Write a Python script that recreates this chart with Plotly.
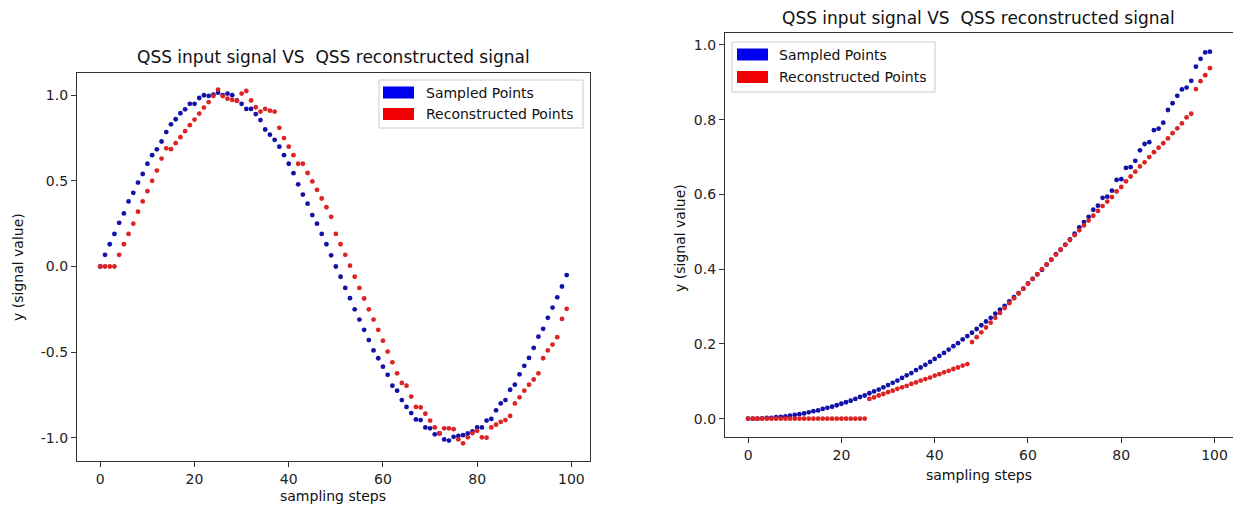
import plotly.graph_objects as go

W, H = 1233, 508

steps = list(range(100))

sine_sampled = [
    0.000, 0.068, 0.130, 0.190, 0.255, 0.310, 0.380, 0.430, 0.490, 0.540,
    0.600, 0.650, 0.684, 0.730, 0.785, 0.830, 0.860, 0.895, 0.918, 0.950,
    0.950, 0.984, 1.000, 0.996, 1.004, 1.015, 1.000, 1.010, 1.000, 0.970,
    0.950, 0.920, 0.920, 0.890, 0.855, 0.800, 0.770, 0.740, 0.700, 0.650,
    0.600, 0.545, 0.480, 0.420, 0.367, 0.300, 0.250, 0.190, 0.130, 0.065,
    0.000, -0.060, -0.125, -0.185, -0.250, -0.310, -0.370, -0.430, -0.490, -0.536,
    -0.585, -0.633, -0.696, -0.725, -0.780, -0.820, -0.856, -0.893, -0.897, -0.940,
    -0.945, -0.980, -0.975, -1.010, -1.017, -0.995, -0.990, -0.985, -0.975, -0.963,
    -0.940, -0.940, -0.900, -0.890, -0.840, -0.800, -0.780, -0.720, -0.690, -0.630,
    -0.580, -0.534, -0.475, -0.410, -0.364, -0.300, -0.240, -0.180, -0.117, -0.050,
]

sine_recon = [
    0.000, 0.000, 0.000, 0.000, 0.068, 0.130, 0.190, 0.250, 0.320, 0.380,
    0.440, 0.500, 0.560, 0.630, 0.690, 0.685, 0.720, 0.755, 0.790, 0.825,
    0.858, 0.893, 0.928, 0.960, 0.996, 1.033, 0.995, 0.980, 0.973, 0.967,
    1.010, 1.025, 0.970, 0.930, 0.905, 0.920, 0.910, 0.905, 0.810, 0.750,
    0.700, 0.650, 0.600, 0.600, 0.546, 0.497, 0.448, 0.397, 0.346, 0.290,
    0.190, 0.130, 0.068, 0.005, -0.060, -0.125, -0.187, -0.250, -0.310, -0.370,
    -0.433, -0.497, -0.560, -0.624, -0.680, -0.696, -0.760, -0.820, -0.823, -0.860,
    -0.900, -0.940, -0.975, -0.945, -0.945, -0.950, -1.010, -1.033, -0.998, -0.973,
    -0.960, -0.998, -1.000, -0.940, -0.924, -0.908, -0.897, -0.873, -0.800, -0.764,
    -0.725, -0.690, -0.660, -0.624, -0.536, -0.490, -0.456, -0.413, -0.306, -0.247,
]

ramp_sampled = [
    0.000, 0.000, 0.000, 0.001, 0.002, 0.002, 0.004, 0.005, 0.006, 0.008,
    0.010, 0.012, 0.014, 0.017, 0.020, 0.022, 0.026, 0.029, 0.032, 0.036,
    0.040, 0.044, 0.048, 0.053, 0.058, 0.062, 0.068, 0.073, 0.078, 0.084,
    0.090, 0.096, 0.102, 0.109, 0.116, 0.122, 0.130, 0.137, 0.144, 0.152,
    0.160, 0.168, 0.176, 0.185, 0.194, 0.202, 0.212, 0.221, 0.230, 0.240,
    0.250, 0.260, 0.270, 0.281, 0.292, 0.302, 0.314, 0.325, 0.336, 0.348,
    0.362, 0.374, 0.386, 0.398, 0.412, 0.425, 0.440, 0.452, 0.466, 0.480,
    0.495, 0.512, 0.526, 0.540, 0.559, 0.570, 0.591, 0.594, 0.610, 0.639,
    0.641, 0.671, 0.673, 0.690, 0.718, 0.735, 0.740, 0.772, 0.776, 0.792,
    0.826, 0.844, 0.864, 0.881, 0.886, 0.904, 0.942, 0.963, 0.980, 0.982,
]

ramp_recon = [
    0.000, 0.000, 0.000, 0.000, 0.000, 0.000, 0.000, 0.000, 0.000, 0.000,
    0.000, 0.000, 0.000, 0.000, 0.000, 0.000, 0.000, 0.000, 0.000, 0.000,
    0.000, 0.000, 0.000, 0.000, 0.000, 0.000, 0.053, 0.057, 0.062, 0.066,
    0.071, 0.075, 0.080, 0.084, 0.088, 0.093, 0.097, 0.102, 0.106, 0.110,
    0.115, 0.119, 0.124, 0.128, 0.133, 0.137, 0.142, 0.146, 0.205, 0.218,
    0.231, 0.244, 0.257, 0.270, 0.283, 0.296, 0.309, 0.322, 0.335, 0.348,
    0.361, 0.374, 0.387, 0.400, 0.413, 0.426, 0.439, 0.452, 0.465, 0.478,
    0.491, 0.504, 0.517, 0.530, 0.543, 0.556, 0.569, 0.581, 0.593, 0.608,
    0.620, 0.635, 0.648, 0.661, 0.675, 0.686, 0.700, 0.713, 0.725, 0.737,
    0.750, 0.764, 0.777, 0.790, 0.806, 0.816, 0.882, 0.903, 0.919, 0.938,
]

x_ticks = [0, 20, 40, 60, 80, 100]
left_y_ticks = [-1.0, -0.5, 0.0, 0.5, 1.0]
right_y_ticks = [0.0, 0.2, 0.4, 0.6, 0.8, 1.0]

TITLE = "QSS input signal VS \u00a0QSS reconstructed signal"
X_LABEL = "sampling steps"
Y_LABEL = "y (signal value)"
LEGEND_NAMES = ["Sampled Points", "Reconstructed Points"]

BLUE = "#1212a8"
RED = "#dd2424"
PATCH_BLUE = "#0000f0"
PATCH_RED = "#f00000"
FONT = "DejaVu Sans"


def px(x):
    return x / W


def py(y):
    return 1 - y / H


fig = go.Figure()
for xa, ya, sampled, recon in [("x", "y", sine_sampled, sine_recon),
                               ("x2", "y2", ramp_sampled, ramp_recon)]:
    fig.add_trace(go.Scatter(x=steps, y=sampled, mode="markers", xaxis=xa, yaxis=ya,
                             marker=dict(color=BLUE, size=4.8), showlegend=False,
                             name=LEGEND_NAMES[0]))
    fig.add_trace(go.Scatter(x=steps, y=recon, mode="markers", xaxis=xa, yaxis=ya,
                             marker=dict(color=RED, size=4.8), showlegend=False,
                             name=LEGEND_NAMES[1]))

axis_common = dict(showline=True, mirror=True, linecolor="#333333", linewidth=1.3,
                   ticks="outside", ticklen=5, tickwidth=1.2, tickcolor="#333333",
                   showgrid=False, zeroline=False,
                   tickfont=dict(family=FONT, size=14, color="#222222"))

fig.update_layout(
    width=W, height=H,
    margin=dict(l=0, r=0, t=0, b=0),
    paper_bgcolor="white", plot_bgcolor="white",
    showlegend=False,
    xaxis=dict(domain=[px(77), px(590)], range=[-4.95, 103.95], tickvals=x_ticks,
               anchor="y", **axis_common),
    yaxis=dict(domain=[py(461), py(73)], range=[-1.136, 1.13], tickvals=left_y_ticks,
               ticktext=[f"{v:.1f}" for v in left_y_ticks], anchor="x", **axis_common),
    xaxis2=dict(domain=[px(725), 1.0], range=[-4.95, 103.95], tickvals=x_ticks,
                anchor="y2", **axis_common),
    yaxis2=dict(domain=[py(437), py(33)], range=[-0.049, 1.032], tickvals=right_y_ticks,
                ticktext=[f"{v:.1f}" for v in right_y_ticks], anchor="x2", **axis_common),
)

annotations = []


def text(x, y, s, size=14, angle=0, xanchor="center"):
    annotations.append(dict(x=px(x), y=py(y), xref="paper", yref="paper", text=s,
                            showarrow=False, xanchor=xanchor, yanchor="middle",
                            textangle=angle,
                            font=dict(family=FONT, size=size, color="#111111")))


# titles and axis labels
text(333, 57, TITLE, size=17)
text(978, 18, TITLE, size=17)
text(333, 496, X_LABEL)
text(979, 475, X_LABEL)
text(18, 267, Y_LABEL, angle=-90)
text(680, 238, Y_LABEL, angle=-90)

shapes = []


def rect(x0, y0, x1, y1, fill, line="rgba(0,0,0,0)", lw=0):
    shapes.append(dict(type="rect", xref="paper", yref="paper",
                       x0=px(x0), x1=px(x1), y0=py(y1), y1=py(y0),
                       fillcolor=fill, line=dict(color=line, width=lw)))


# legends (manual patches, like matplotlib)
for (fx0, fy0, fx1, fy1, patch_x0, blue_y, red_y, tx) in [
        (379, 80, 583, 128, 383, 92.5, 114, 424),
        (732, 42, 935, 92, 737, 54.5, 77, 777)]:
    rect(fx0, fy0, fx1, fy1, "rgba(255,255,255,0.85)", "#cccccc", 1)
    rect(patch_x0, blue_y - 6, patch_x0 + 31, blue_y + 6, PATCH_BLUE)
    rect(patch_x0, red_y - 6, patch_x0 + 31, red_y + 6, PATCH_RED)
    text(tx, blue_y, LEGEND_NAMES[0], xanchor="left")
    text(tx, red_y, LEGEND_NAMES[1], xanchor="left")

fig.update_layout(annotations=annotations, shapes=shapes)

fig.write_html("out.html",
               config={"displayModeBar": False},
               post_script="document.body.style.margin='0';document.body.style.overflow='hidden';")
